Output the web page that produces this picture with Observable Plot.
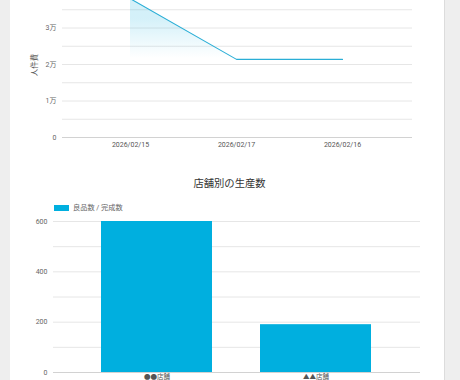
<!DOCTYPE html>
<html>
<head>
<meta charset="utf-8">
<script src="https://cdn.jsdelivr.net/npm/d3@7"></script>
<script src="https://cdn.jsdelivr.net/npm/@observablehq/plot@0.6"></script>
<style>
  html, body { margin:0; padding:0; }
  body { width:460px; height:380px; overflow:hidden; background:#eeeeee; position:relative;
         font-family: Roboto, "Noto Sans CJK JP", sans-serif; }
  #card { position:absolute; left:10px; top:0; width:434px; height:380px; background:#fff; border-right:1px solid #dcdcdc; }
  .abs { position:absolute; left:0; top:0; }
  #title { position:absolute; left:0; width:459px; top:178px; text-align:center; font-size:10.3px; line-height:11px; color:#333; }
  #legend { position:absolute; left:54px; top:203px; font-size:7.2px; line-height:10px; color:#666; display:flex; align-items:center; }
  #legend .box { width:15px; height:6px; margin-right:4px; }
  #ylab { position:absolute; left:33px; top:65px; transform:translate(-50%,-50%) rotate(-90deg); font-size:7.5px; color:#555; white-space:nowrap; }
</style>
</head>
<body>
<div id="card"></div>
<div id="top" class="abs"></div>
<div id="bottom" class="abs"></div>
<div id="ylab">人件費</div>
<div id="title">店舗別の生産数</div>
<div id="legend"><span class="box"></span><span id="legtext"></span></div>
<script>
// ---- data ----
const dates = ["2026/02/15", "2026/02/17", "2026/02/16"];
const laborCost = [38000, 21400, 21400];
const topTicks = [0, 10000, 20000, 30000];
const topGrid = [0, 5000, 10000, 15000, 20000, 25000, 30000, 35000, 40000];

const stores = ["●●店舗", "▲▲店舗"];
const goodCounts = [600, 190];
const seriesName = "良品数 / 完成数";
const bottomTicks = [0, 200, 400, 600];
const bottomGrid = [0, 100, 200, 300, 400, 500, 600];

const lineColor = "#2aaed6";
const barColor = "#00afdf";
const font = 'Roboto, "Noto Sans CJK JP", sans-serif';

const lineData = dates.map((d, i) => ({date: d, value: laborCost[i]}));
const barData = stores.map((s, i) => ({store: s, value: goodCounts[i]}));

// ---- top chart ----
const topPlot = Plot.plot({
  width: 460, height: 160,
  marginLeft: 62, marginRight: 48, marginTop: 0, marginBottom: 23,
  style: {background: "transparent", fontFamily: font, fontSize: "7px", color: "#666"},
  x: {type: "point", domain: dates, range: [61, 411], padding: 0.65},
  y: {domain: [0, 40000], range: [137, -9]},
  marks: [
    Plot.ruleY(topGrid.filter(v => v > 0), {stroke: "#e6e6e6", strokeWidth: 1}),
    Plot.ruleY([0], {stroke: "#d2d2d2", strokeWidth: 1}),
    Plot.areaY(lineData, {x: "date", y: "value", fill: "url(#fadeGrad)"}),
    Plot.lineY(lineData, {x: "date", y: "value", stroke: lineColor, strokeWidth: 1.1}),
    Plot.axisY({ticks: topTicks, tickSize: 0, tickPadding: 6,
      tickFormat: d => d === 0 ? "0" : (d / 10000) + "万", label: null, fill: "#666"}),
    Plot.axisX({tickSize: 0, tickPadding: 5, label: null, fill: "#555"})
  ]
});
d3.select(topPlot).insert("defs", ":first-child").html(
  `<linearGradient id="fadeGrad" gradientUnits="userSpaceOnUse" x1="0" y1="18" x2="0" y2="58">
     <stop offset="0" stop-color="#00aadc" stop-opacity="0.17"/>
     <stop offset="1" stop-color="#00aadc" stop-opacity="0"/>
   </linearGradient>`);
document.getElementById("top").appendChild(topPlot);

// ---- bottom chart ----
const bottomPlot = Plot.plot({
  width: 460, height: 400,
  marginLeft: 53, marginRight: 40, marginTop: 221, marginBottom: 28,
  style: {background: "transparent", fontFamily: font, fontSize: "7px", color: "#666"},
  x: {type: "band", domain: stores, range: [77, 396], paddingInner: 0.3, paddingOuter: 0.15},
  y: {domain: [0, 600]},
  marks: [
    Plot.ruleY(bottomGrid.filter(v => v > 0), {stroke: "#e6e6e6", strokeWidth: 1}),
    Plot.barY(barData, {x: "store", y: "value", fill: barColor}),
    Plot.ruleY([0], {stroke: "#d2d2d2", strokeWidth: 1}),
    Plot.axisY({ticks: bottomTicks, tickSize: 0, tickPadding: 6, label: null, fill: "#666"}),
    Plot.axisX({tickSize: 0, tickPadding: 1.5, label: null, fill: "#555", fontSize: 6.5})
  ]
});
document.getElementById("bottom").appendChild(bottomPlot);

document.querySelector("#legend .box").style.background = barColor;
document.getElementById("legtext").textContent = seriesName;
</script>
</body>
</html>
